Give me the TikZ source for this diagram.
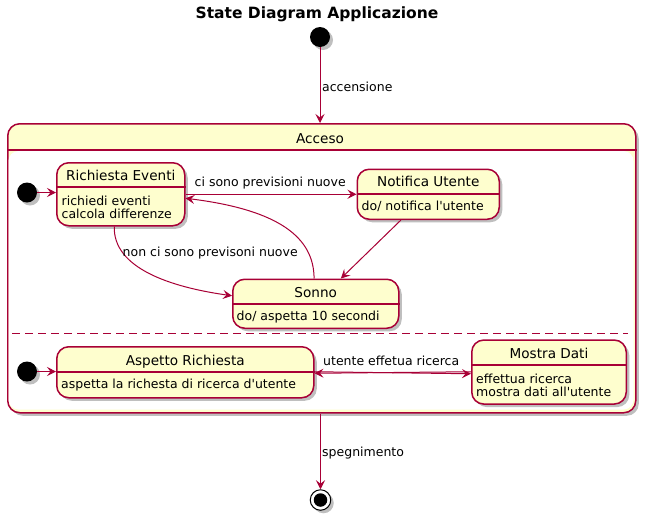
\documentclass[tikz,border=0pt]{standalone}
\usepackage{fontspec}
\setmainfont{DejaVu Sans}
\usetikzlibrary{arrows.meta,shadows,calc}
\definecolor{bord}{HTML}{A80036}
\definecolor{yel}{HTML}{FEFECE}
\newcommand\fnName{\fontsize{13.6}{16}\selectfont}
\newcommand\fnLab{\fontsize{12.5}{14}\selectfont}
\newcommand\fnTitle{\fontsize{15.5}{18}\selectfont\bfseries}
\tikzset{
  shad/.style={drop shadow={shadow xshift=3pt,shadow yshift=-3pt,fill=black,opacity=0.25}},
  stbox/.style={draw=bord,fill=yel,line width=1.5pt,rounded corners=12pt,inner sep=0pt,anchor=north west,shad},
  sep/.style={draw=bord,line width=1.5pt},
  arr/.style={draw=bord,line width=1pt,-{Stealth[length=9pt,width=9pt,inset=3.5pt]}},
  txt/.style={inner sep=0pt,anchor=base west},
  ctxt/.style={inner sep=0pt,anchor=base},
  initdot/.style={circle,fill=black,inner sep=0pt,minimum size=20pt,shad},
}
\begin{document}
\begin{tikzpicture}[x=1pt,y=-1pt]
\useasboundingbox (0,0) rectangle (645,520);
% title
\node[ctxt] (title) at (317,18) {\fnTitle State Diagram Applicazione};
% top initial
\node[initdot] (i0) at (320,37) {};
% composite Acceso
\node[stbox,minimum width=628pt,minimum height=289pt] (acc) at (7,123) {};
\fill[white,rounded corners=10pt] (8.5,151) rectangle (633.5,409.5);
\draw[sep] (acc.west |- 0,150) -- (acc.east |- 0,150);
\node[ctxt] (acct) at (320,143) {\fnName Acceso};
\draw[bord,line width=1pt,dash pattern=on 8pt off 5pt] (12,333) -- (628,333);
% region 1
\node[initdot] (i1) at (27,192.5) {};
\node[stbox,minimum width=128pt,minimum height=63pt] (re) at (56,162) {};
\draw[sep] (re.west |- 0,187) -- (re.east |- 0,187);
\node[ctxt] (ren) at (re.north |- 0,180) {\fnName Richiesta Eventi};
\node[txt] (reb1) at (61.5,205) {\fnLab richiedi eventi};
\node[txt] (reb2) at (61.5,218.5) {\fnLab calcola differenze};

\node[stbox,minimum width=142pt,minimum height=50pt] (nu) at (356.5,168.5) {};
\draw[sep] (nu.west |- 0,194) -- (nu.east |- 0,194);
\node[ctxt] (nun) at (nu.north |- 0,186) {\fnName Notifica Utente};
\node[txt] (nub) at (361.5,210.5) {\fnLab do/ notifica l\textquotesingle utente};

\node[stbox,minimum width=166pt,minimum height=49pt] (so) at (232,278.5) {};
\draw[sep] (so.west |- 0,304) -- (so.east |- 0,304);
\node[ctxt] (son) at (so.north |- 0,297) {\fnName Sonno};
\node[txt] (sob) at (236.5,320) {\fnLab do/ aspetta 10 secondi};

% region 2
\node[initdot] (i2) at (27,371.5) {};
\node[stbox,minimum width=257pt,minimum height=51pt] (ap) at (56,346) {};
\draw[sep] (ap.west |- 0,372) -- (ap.east |- 0,372);
\node[ctxt] (apn) at (ap.north |- 0,365) {\fnName Aspetto Richiesta};
\node[txt] (apb) at (61,388) {\fnLab aspetta la richesta di ricerca d\textquotesingle utente};

\node[stbox,minimum width=154.5pt,minimum height=64pt] (md) at (471,339.3) {};
\draw[sep] (md.west |- 0,365) -- (md.east |- 0,365);
\node[ctxt] (mdn) at (md.north |- 0,358.5) {\fnName Mostra Dati};
\node[txt] (mdb1) at (476,383) {\fnLab effettua ricerca};
\node[txt] (mdb2) at (476,396.5) {\fnLab mostra dati all\textquotesingle utente};

% final state
\node[circle,draw=black,fill=white,line width=1pt,inner sep=0pt,minimum size=20.5pt,shad] (fin) at (320.5,500) {};
\node[circle,fill=black,inner sep=0pt,minimum size=13.5pt] (finin) at (fin.center) {};

% connectors
\draw[arr] (i0) -- (i0 |- acc.north);
\node[txt] (l0) at (322,91) {\fnLab accensione};

\draw[arr] (i1) -- (re.west |- i1);
\draw[arr] (re.east) -- (nu.west |- re.east);
\node[txt] (l1) at (194.5,186.5) {\fnLab ci sono previsioni nuove};

\coordinate (nus) at ($(nu.south west)!0.31!(nu.south east)$);
\coordinate (son2) at ($(so.north west)!0.65!(so.north east)$);
\draw[arr] (nus) -- (son2);

\coordinate (sonn) at ($(so.north west)!0.49!(so.north east)$);
\coordinate (ree) at ($(re.east)+(0,4)$);
\draw[arr] (sonn) .. controls (314,238) and (280,210) .. (ree);

\coordinate (res) at ($(re.south west)!0.45!(re.south east)$);
\coordinate (sow) at ($(so.west)+(0,-8)$);
\draw[arr] (res) .. controls (113,268) and (170,287) .. (sow);
\node[txt] (l2) at (122.5,256) {\fnLab non ci sono previsoni nuove};

\draw[arr] (i2) -- (ap.west |- i2);
\draw[arr] ($(ap.east)+(0,-0.5)$) -- ($(md.west |- ap.east)+(0,1.5)$);
\draw[arr] ($(md.west |- ap.east)+(0,-0.5)$) -- ($(ap.east)+(0,1)$);
\node[txt] (l3) at (323,365) {\fnLab utente effetua ricerca};

\draw[arr] (acc.south -| fin) -- (fin.north);
\node[txt] (l4) at (322,456) {\fnLab spegnimento};
\end{tikzpicture}
\end{document}
